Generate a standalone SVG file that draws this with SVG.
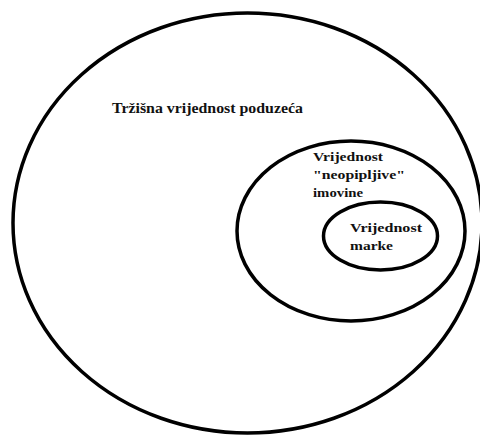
<svg xmlns="http://www.w3.org/2000/svg" width="480" height="436" viewBox="0 0 480 436">
<style>
.ring{fill:none;stroke:#000;stroke-width:3.5}
.lbl{font-family:"Liberation Serif","Times New Roman",serif;font-weight:bold;fill:#111}
.big{font-size:14.5px}
.small{font-size:13.5px}
</style>
<rect width="480" height="436" fill="#fff"/>
<g id="outer">
<ellipse class="ring" cx="247.5" cy="223" rx="234.5" ry="210"/>
<text class="lbl big" x="112" y="113" textLength="191" lengthAdjust="spacingAndGlyphs">Tržišna vrijednost poduzeća</text>
</g>
<g id="middle">
<ellipse class="ring" cx="351" cy="231" rx="114" ry="90"/>
<text class="lbl small" x="313" y="161" textLength="70" lengthAdjust="spacingAndGlyphs">Vrijednost</text>
<text class="lbl small" x="313" y="179" textLength="92" lengthAdjust="spacingAndGlyphs">&quot;neopipljive&quot;</text>
<text class="lbl small" x="313" y="197" textLength="50" lengthAdjust="spacingAndGlyphs">imovine</text>
</g>
<g id="inner">
<ellipse class="ring" cx="380.5" cy="236" rx="57" ry="34"/>
<text class="lbl small" x="350" y="232" textLength="72" lengthAdjust="spacingAndGlyphs">Vrijednost</text>
<text class="lbl small" x="350" y="250" textLength="43" lengthAdjust="spacingAndGlyphs">marke</text>
</g>
<g id="connectors"></g>
</svg>
